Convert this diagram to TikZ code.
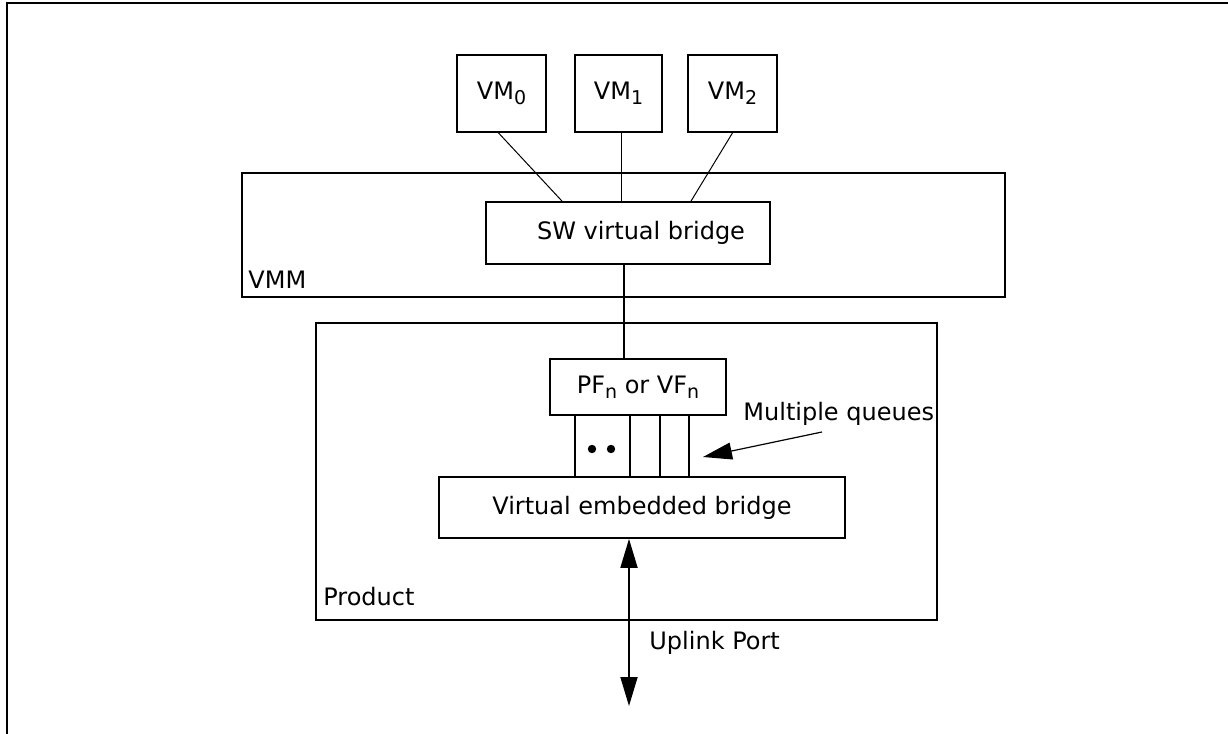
\documentclass[tikz,border=0pt]{standalone}
\usepackage{fontspec}
\setmainfont{DejaVu Sans}
\usetikzlibrary{arrows.meta,calc}
\newcommand\subs[1]{\raisebox{-2.5pt}{\fontsize{9.5}{10}\selectfont #1}}
\begin{document}
\begin{tikzpicture}[x=0.5pt,y=-0.5pt,
  font=\fontsize{12}{14}\selectfont,
  box/.style={draw, line width=0.9pt, inner sep=0pt, anchor=center},
  vmbox/.style={box, minimum height=38.5pt},
  lbl/.style={anchor=west, inner sep=0pt},
  link/.style={line width=0.9pt},
  thinlink/.style={line width=0.5pt},
  arr/.style={line width=0.6pt, -{Triangle[length=14.5pt,width=8.5pt]}},
  biarr/.style={line width=0.9pt, {Triangle[length=14.5pt,width=8.5pt]}-{Triangle[length=14.5pt,width=8.5pt]}}]
\useasboundingbox (0,0) rectangle (1228,734);
% outer frame (only top and left edges visible)
\draw[line width=1.1pt] (7,734) -- (7,3) -- (1228,3);

% containers
\node[box, minimum width=381.5pt, minimum height=62pt] (vmm) at (623.5,235) {};
\node[lbl] (vmmlbl) at (248,280) {VMM};
\node[box, minimum width=310.5pt, minimum height=148.5pt] (prod) at (626.5,471.5) {};
\node[lbl] (prodlbl) at (323,597) {Product};

% VMs
\node[vmbox, minimum width=44.5pt] (vm0) at (501.5,93.5) {VM\subs{0}};
\node[vmbox, minimum width=43.5pt] (vm1) at (618.5,93.5) {VM\subs{1}};
\node[vmbox, minimum width=44.5pt] (vm2) at (732.5,93.5) {VM\subs{2}};

% bridges
\node[box, minimum width=142pt, minimum height=31pt, fill=white] (sw) at (628,233) {\hspace{13pt}SW virtual bridge};
\node[box, minimum width=88pt, minimum height=28pt] (pf) at (638,387) {PF\subs{n} or VF\subs{n}};
\node[box, minimum width=203pt, minimum height=30.5pt] (veb) at (642,507.5) {Virtual embedded bridge};

% VM connections
\draw[thinlink] ([xshift=-1.5pt]vm0.south) -- ([xshift=-33pt]sw.north);
\draw[link] ([xshift=1.5pt]vm1.south) -- ([xshift=1.5pt]vm1.south |- sw.north);
\draw[thinlink] (vm2.south) -- ([xshift=31.5pt]sw.north);

% SW bridge to PF
\draw[link] ([xshift=-2pt]sw.south) -- ([xshift=-2pt]sw.south |- pf.north);

% queues
\path (575,0) coordinate (qa) (630,0) coordinate (qb) (660,0) coordinate (qc) (689,0) coordinate (qd);
\foreach \q in {qa,qb,qc,qd}
  \draw[link] (pf.south -| \q) -- (veb.north -| \q);
\fill (592,449) circle[radius=2.1pt];
\fill (611,449) circle[radius=2.1pt];

% multiple queues
\node[lbl] (mq) at (743,414) {Multiple queues};
\coordinate (mqstart) at (822,432);
\coordinate (mqtip) at (703,457);
\draw[arr] (mqstart) -- (mqtip);

% uplink
\coordinate (upend) at (629,706);
\draw[biarr] (veb.south -| upend) -- (upend);
\node[lbl] (uplbl) at (649,643) {Uplink Port};
\end{tikzpicture}
\end{document}
